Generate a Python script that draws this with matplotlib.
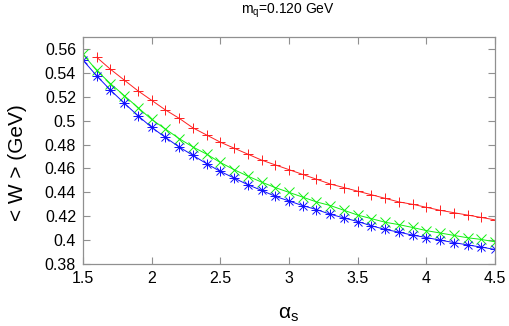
import matplotlib
matplotlib.use("Agg")
import matplotlib.pyplot as plt

# alpha_s values (step 0.1)
alpha_s = [1.5, 1.6, 1.7, 1.8, 1.9, 2.0, 2.1, 2.2, 2.3, 2.4, 2.5,
           2.6, 2.7, 2.8, 2.9, 3.0, 3.1, 3.2, 3.3, 3.4, 3.5,
           3.6, 3.7, 3.8, 3.9, 4.0, 4.1, 4.2, 4.3, 4.4, 4.5]

# red series starts at 1.6
w_red = [0.553, 0.543, 0.534, 0.525, 0.517,
         0.509, 0.502, 0.494, 0.488, 0.482,
         0.477, 0.472, 0.467, 0.463, 0.459,
         0.455, 0.451, 0.447, 0.444, 0.441,
         0.438, 0.435, 0.432, 0.430, 0.4275,
         0.425, 0.423, 0.421, 0.419, 0.417]

w_green = [0.5556, 0.542, 0.531, 0.521, 0.511, 0.501,
           0.493, 0.485, 0.478, 0.472, 0.465,
           0.459, 0.4536, 0.4486, 0.444, 0.440,
           0.436, 0.432, 0.429, 0.425, 0.421,
           0.418, 0.415, 0.413, 0.4106, 0.408,
           0.406, 0.404, 0.402, 0.4006, 0.3986]

w_blue = [0.5506, 0.5375, 0.5256, 0.5147, 0.5042, 0.4944,
          0.486, 0.478, 0.471, 0.464, 0.4575,
          0.452, 0.4464, 0.4417, 0.4367, 0.4328,
          0.4289, 0.4256, 0.4217, 0.4186, 0.4156,
          0.412, 0.409, 0.4067, 0.4042, 0.4022,
          0.400, 0.398, 0.396, 0.3942, 0.3922]

xticks = [1.5, 2, 2.5, 3, 3.5, 4, 4.5]
xticklabels = ["1.5", "2", "2.5", "3", "3.5", "4", "4.5"]
yticks = [0.38, 0.40, 0.42, 0.44, 0.46, 0.48, 0.50, 0.52, 0.54, 0.56]
yticklabels = ["0.38", "0.4", "0.42", "0.44", "0.46", "0.48", "0.5", "0.52", "0.54", "0.56"]

plt.rcParams['font.family'] = ['Liberation Sans', 'DejaVu Sans']

fig = plt.figure(figsize=(5.10, 3.26), dpi=100)
ax = fig.add_axes([0.1627, 0.19, 0.8079, 0.6965])

ax.plot(alpha_s[1:], w_red, color='#ff2020', lw=0.7, marker='+', ms=7, mew=0.7)
ax.plot(alpha_s, w_green, color='#10f010', lw=0.7, marker='x', ms=6.5, mew=0.7)
ax.plot(alpha_s, w_blue, color='#1010ff', lw=0.7, marker='+', ms=7, mew=0.7)
ax.plot(alpha_s, w_blue, color='#1010ff', lw=0, marker='x', ms=5.5, mew=0.7)

ax.set_xlim(1.5, 4.5)
ax.set_ylim(0.38, 0.57)
ax.set_xticks(xticks)
ax.set_xticklabels(xticklabels)
ax.set_yticks(yticks)
ax.set_yticklabels(yticklabels)

for s in ax.spines.values():
    s.set_color('#909090')
    s.set_linewidth(0.9)
ax.tick_params(direction='in', length=5, width=0.8, color='#909090',
               top=True, right=True, labelsize=11.5, pad=5)

ax.set_xlabel(r'$\mathregular{\alpha_s}$', fontsize=15, labelpad=14)
fig.text(0.035, 0.5, '< W > (GeV)', rotation=90, fontsize=15,
         ha='center', va='center')
fig.text(0.565, 0.968, r'm$\mathregular{_q}$=0.120 GeV', fontsize=10,
         ha='center', va='center')

fig.savefig('out.png', dpi=100)
